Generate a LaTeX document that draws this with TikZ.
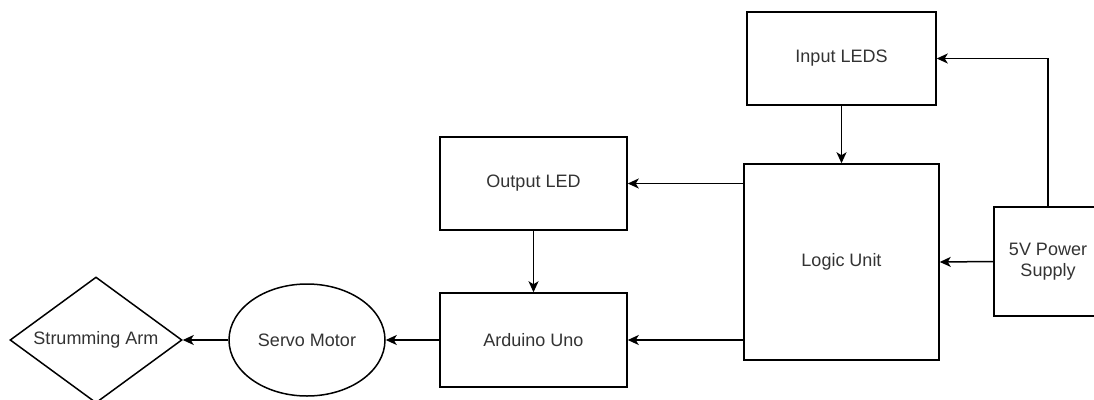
\documentclass[tikz,border=0pt]{standalone}
\usepackage{fontspec}
\setmainfont{Liberation Sans}
\usetikzlibrary{shapes.geometric,arrows.meta}
\definecolor{txt}{HTML}{333333}
\tikzset{
  blk/.style={draw=black, line width=1.5pt, rectangle, inner sep=0pt, text=txt, font=\fontsize{18}{21.5}\selectfont, align=center},
  ell/.style={draw=black, line width=1.5pt, ellipse, inner sep=0pt, text=txt, font=\fontsize{18}{21.5}\selectfont},
  dia/.style={draw=black, line width=1.5pt, diamond, inner sep=0pt, text=txt, font=\fontsize{18}{21.5}\selectfont},
  arr/.style={draw=black, line width=1.5pt, -{Stealth[length=11pt,width=10pt,inset=3pt]}}
}
\begin{document}
\begin{tikzpicture}[x=1pt,y=-1pt]
\useasboundingbox (0,0) rectangle (1094,399);
\clip (0,0) rectangle (1094,399);
\fill[white] (0,0) rectangle (1094,399);
\node[blk, minimum width=189pt, minimum height=93pt] (inp) at (841.5,58.5) {Input LEDS};
\node[blk, minimum width=195pt, minimum height=196pt] (logic) at (841.5,262) {Logic Unit};
\node[blk, minimum width=187pt, minimum height=93pt] (out) at (533.5,183.5) {Output LED};
\node[blk, minimum width=187pt, minimum height=94pt] (ard) at (533.5,340) {Arduino Uno};
\node[blk, minimum width=108pt, minimum height=109pt] (psu) at (1048,261.5) {5V Power\\Supply};
\node[ell, minimum width=156pt, minimum height=112pt] (servo) at (307,340) {Servo Motor};
\node[dia, minimum width=172pt, minimum height=126pt, shape aspect=1.365] (arm) at (96,340) {Strumming Arm};
\draw[arr] (inp.south) -- (logic.north);
\draw[arr] (psu.north) |- (inp.east);
\draw[arr] (psu.west) -- (logic.east);
\draw[arr] (logic.west |- out.east) -- (out.east);
\draw[arr] (logic.west |- ard.east) -- (ard.east);
\draw[arr] (out.south) -- (ard.north);
\draw[arr] (ard.west) -- (servo.east);
\draw[arr] (servo.west) -- (arm.east);
\end{tikzpicture}
\end{document}
